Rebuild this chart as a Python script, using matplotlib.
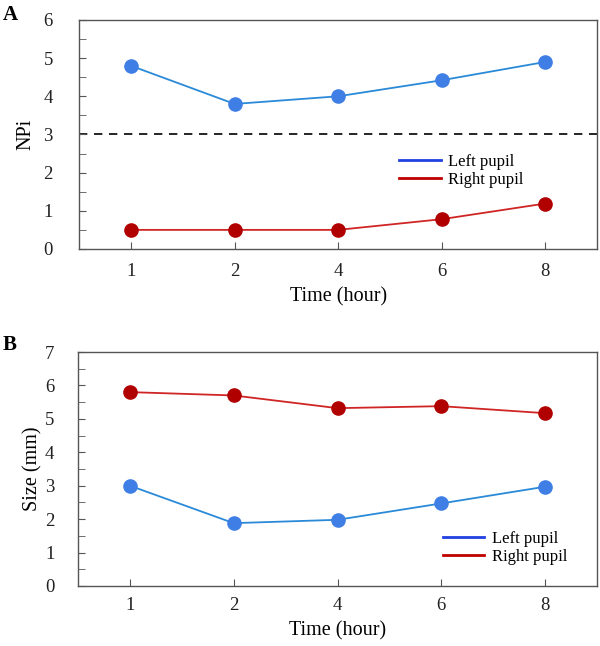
import matplotlib
matplotlib.use("Agg")
from matplotlib import pyplot as plt
from matplotlib.lines import Line2D
from matplotlib.ticker import MultipleLocator

plt.rcParams['font.family'] = ['Liberation Serif', 'DejaVu Serif']

hours = ['1', '2', '4', '6', '8']

npi_left = [4.8, 3.8, 4.0, 4.42, 4.9]
npi_right = [0.5, 0.5, 0.5, 0.78, 1.19]

size_left = [3.0, 1.88, 1.98, 2.47, 2.97]
size_right = [5.8, 5.7, 5.32, 5.38, 5.17]

BLUE_MK = '#3F7FE5'
BLUE_LN = '#2A8AD8'
RED_MK = '#B00000'
RED_LN = '#D02525'
SPINE = '#555555'


def style_axes(ax, ymax, xpad, ypad):
    pos = range(1, len(hours) + 1)
    ax.set_xlim(0.5, len(hours) + 0.5)
    ax.set_ylim(0, ymax)
    ax.set_xticks(list(pos))
    ax.set_xticklabels(hours)
    ax.yaxis.set_major_locator(MultipleLocator(1))
    ax.yaxis.set_minor_locator(MultipleLocator(0.5))
    ax.tick_params(axis='both', which='both', direction='in', colors=SPINE,
                   labelcolor='#222222', labelsize=13.5, top=False, right=False)
    ax.tick_params(axis='x', length=5, pad=xpad)
    ax.tick_params(axis='y', which='major', length=5, pad=ypad)
    ax.tick_params(axis='y', which='minor', length=5)
    for s in ax.spines.values():
        s.set_color(SPINE)
        s.set_linewidth(1.0)
    ax.set_xlabel('Time (hour)', fontsize=14.5, labelpad=5)


def draw_series(ax, left, right):
    pos = range(1, len(hours) + 1)
    ax.plot(pos, left, color=BLUE_LN, lw=1.3, zorder=2)
    ax.plot(pos, left, 'o', color=BLUE_MK, ms=9.5, zorder=3)
    ax.plot(pos, right, color=RED_LN, lw=1.3, zorder=2)
    ax.plot(pos, right, 'o', color=RED_MK, ms=9.5, zorder=3)


def add_legend(ax, anchor):
    handles = [Line2D([], [], color='#2040E0', lw=2),
               Line2D([], [], color='#C00000', lw=2)]
    ax.legend(handles, ['Left pupil', 'Right pupil'], loc='upper left',
              bbox_to_anchor=anchor, frameon=False, fontsize=12,
              handlelength=2.5, handletextpad=0.45, labelspacing=0.15,
              borderaxespad=0)


fig = plt.figure(figsize=(6.0, 6.46), dpi=100)

ax1 = fig.add_axes([0.132, 0.6146, 0.863, 0.3545])
draw_series(ax1, npi_left, npi_right)
ax1.axhline(3, color='black', ls=(0, (5, 4)), lw=1.2, zorder=1)
style_axes(ax1, 6, xpad=10, ypad=19)
ax1.set_ylabel('NPi', fontsize=14.5, labelpad=6)
add_legend(ax1, (0.605, 0.445))
fig.text(0.005, 0.969, 'A', fontsize=15, fontweight='bold')

ax2 = fig.add_axes([0.130, 0.0929, 0.865, 0.3622])
draw_series(ax2, size_left, size_right)
style_axes(ax2, 7, xpad=8, ypad=17)
ax2.set_ylabel('Size (mm)', fontsize=14.5, labelpad=2)
add_legend(ax2, (0.69, 0.265))
fig.text(0.005, 0.458, 'B', fontsize=15, fontweight='bold')

fig.savefig('out.png', dpi=100)
